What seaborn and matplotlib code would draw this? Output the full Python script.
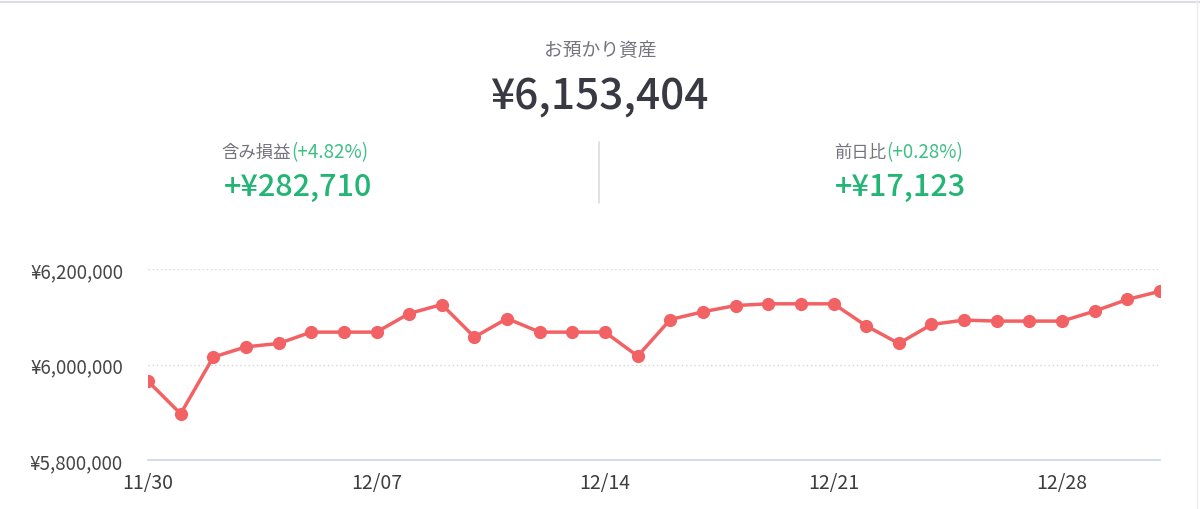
import matplotlib
matplotlib.use("Agg")
import matplotlib.pyplot as plt
import seaborn as sns
import pandas as pd
from matplotlib.lines import Line2D

# ---- data ----
dates = ["11/30", "12/01", "12/02", "12/03", "12/04", "12/05", "12/06", "12/07",
         "12/08", "12/09", "12/10", "12/11", "12/12", "12/13", "12/14", "12/15",
         "12/16", "12/17", "12/18", "12/19", "12/20", "12/21", "12/22", "12/23",
         "12/24", "12/25", "12/26", "12/27", "12/28", "12/29", "12/30", "12/31"]
assets = [5965000, 5896800, 6015500, 6037000, 6044000, 6067800, 6067800, 6067800,
          6106800, 6125600, 6057400, 6096300, 6067800, 6067800, 6067800, 6017600,
          6094200, 6110400, 6123500, 6127100, 6127100, 6127100, 6081000, 6044000,
          6083800, 6093000, 6090900, 6090900, 6090900, 6111800, 6136281, 6153404]
tick_labels = ["11/30", "12/07", "12/14", "12/21", "12/28"]
y_ticks = [5800000, 6000000, 6200000]

title_label = "お預かり資産"
total_text = "¥6,153,404"
gain_label = "含み損益"
gain_pct = "(+4.82%)"
gain_value = "+¥282,710"
day_label = "前日比"
day_pct = "(+0.28%)"
day_value = "+¥17,123"

sns.set_theme(style="white")
plt.rcParams["font.family"] = ["Noto Sans CJK JP", "DejaVu Sans"]

df = pd.DataFrame({"idx": range(len(dates)), "date": dates, "value": assets})

fig = plt.figure(figsize=(12, 5.1), dpi=100)
fig.patch.set_facecolor("white")
ax = fig.add_axes([148 / 1200, 1 - 461 / 510, 1012 / 1200, 191 / 510])

line_color = "#f26163"
sns.lineplot(data=df, x="idx", y="value", ax=ax, color=line_color, linewidth=2.5,
             marker="o", markersize=9.5, markeredgewidth=0, zorder=3)

ax.set_xlim(0, len(dates) - 1)
ax.set_ylim(y_ticks[0], y_ticks[-1])
tick_pos = [dates.index(t) for t in tick_labels]
ax.set_xticks(tick_pos)
ax.set_xticklabels(tick_labels)
ax.set_yticks(y_ticks)
ax.set_yticklabels([f"¥{v:,}" for v in y_ticks])
ax.set_xlabel("")
ax.set_ylabel("")

for v in y_ticks[1:]:
    ax.axhline(v, color="#d6d6d6", linestyle=(0, (1, 2)), linewidth=1.0, zorder=1)

for s in ["top", "right", "left"]:
    ax.spines[s].set_visible(False)
ax.spines["bottom"].set_color("#c9d5ea")
ax.spines["bottom"].set_linewidth(1.2)
ax.spines["bottom"].set_clip_on(False)

ax.tick_params(axis="x", colors="#c9d5ea", length=6.5, width=1.2, direction="out",
               labelcolor="#3d3d3d", labelsize=14, pad=2)
ax.tick_params(axis="y", length=0, labelcolor="#454545", labelsize=13.5, pad=18)

# ---- header texts ----
gray = "#76737f"
green = "#22b573"
green_light = "#3dbf86"
dark = "#393944"

fig.text(600 / 1200, 1 - 50 / 510, title_label, ha="center", va="center",
         fontsize=13.5, color=gray)
fig.text(599 / 1200, 1 - 97 / 510, total_text, ha="center", va="center",
         fontsize=30.5, color=dark, fontweight="medium")

fig.text(291 / 1200, 1 - 153 / 510, gain_label, ha="right", va="center",
         fontsize=12.5, color=gray)
fig.text(291 / 1200, 1 - 153 / 510, gain_pct, ha="left", va="center",
         fontsize=13.5, color=green_light)
fig.text(298 / 1200, 1 - 187 / 510, gain_value, ha="center", va="center",
         fontsize=22, color=green, fontweight="medium")

fig.text(886 / 1200, 1 - 153 / 510, day_label, ha="right", va="center",
         fontsize=12.5, color=gray)
fig.text(886 / 1200, 1 - 153 / 510, day_pct, ha="left", va="center",
         fontsize=13.5, color=green_light)
fig.text(900 / 1200, 1 - 187 / 510, day_value, ha="center", va="center",
         fontsize=22, color=green, fontweight="medium")

# divider and frame
fig.add_artist(Line2D([599 / 1200, 599 / 1200], [1 - 143 / 510, 1 - 204 / 510],
                      color="#dcdcdc", linewidth=1.2, transform=fig.transFigure))
fig.add_artist(Line2D([0, 1], [1 - 2.5 / 510, 1 - 2.5 / 510],
                      color="#dcdce2", linewidth=1.5, transform=fig.transFigure))
fig.add_artist(Line2D([1197 / 1200, 1197 / 1200], [0, 1],
                      color="#ececf0", linewidth=1.0, transform=fig.transFigure))

fig.savefig("out.png", dpi=100, facecolor="white")
